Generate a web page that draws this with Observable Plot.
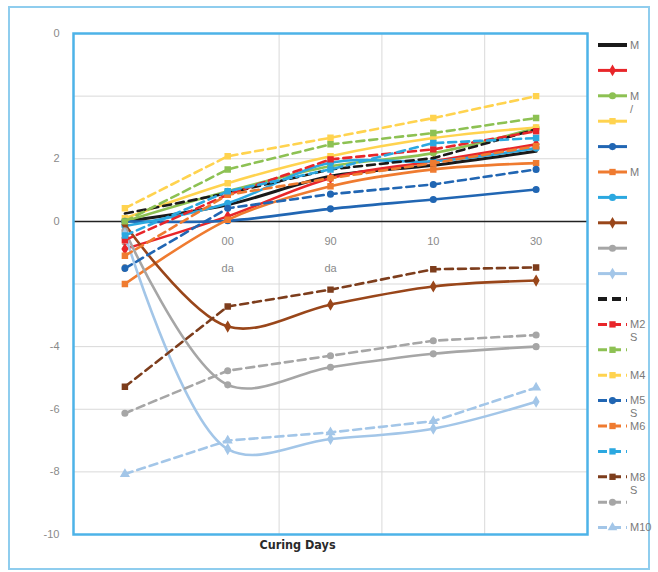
<!DOCTYPE html>
<html><head><meta charset="utf-8">
<script src="https://cdn.jsdelivr.net/npm/d3@7"></script>
<script src="https://cdn.jsdelivr.net/npm/@observablehq/plot@0.6"></script>
<style>
body{margin:0;background:#fff;font-family:"Liberation Sans",Arial,sans-serif;}
#wrap{position:relative;width:658px;height:572px;overflow:hidden;}
#border{position:absolute;left:8px;top:6px;width:642px;height:564px;border:2px solid #8fcdee;box-sizing:border-box;}
#chart{position:absolute;left:0;top:0;}
#legend{position:absolute;left:0;top:0;}
</style></head>
<body><div id="wrap"><div id="border"></div><div id="chart"></div><svg id="legend" width="658" height="572"></svg></div>
<script>
const categories = ["28 days","60 days","90 days","180 days","360 days"];
const tickLine1 = ["2","00","90","10","30"];
const tickLine2 = ["8","da","da","",""];
const yTickValues = [6,4,2,0,-2,-4,-6,-8,-10];
const yTickLabels = ["0","","2","0","","-4","-6","-8","-10"];
const gridY = [6,4,2,-2,-4,-6,-8];

const seriesNames = ["M1","M2","M3","M4","M5","M6","M7","M8","M9","M10",
  "M1 S","M2 S","M3 S","M4 S","M5 S","M6 S","M7 S","M8 S","M9 S","M10 S"];
const seriesColors = ["#1a1a1a","#e8262a","#8dc153","#ffd34f","#2166b3","#ef7b30","#2ba8e0","#99461a","#a6a6a6","#a3c6e8",
  "#1a1a1a","#e8262a","#8dc153","#ffd34f","#2166b3","#ef7b30","#2ba8e0","#7d3d1c","#a6a6a6","#a3c6e8"];
const seriesDashed = [false,false,false,false,false,false,false,false,false,false,
  true,true,true,true,true,true,true,true,true,true];
const seriesSymbols = [null,"diamond","circle","square","circle","square","circle","diamond","circle","diamond",
  null,"square","square","square","circle","square","square","square","circle","triangle"];
const legendLabels = [["M"],[],["M","/"],[],[],["M"],[],[],[],[],
  [],["M2","S"],[],["M4"],["M5","S"],["M6"],[],["M8","S"],[],["M10"]];

const M1  = [0.0, 0.53, 1.44, 1.79, 2.24];
const M2  = [-0.88, 0.16, 1.38, 1.92, 2.46];
const M3  = [0.0, 0.96, 1.76, 2.18, 2.98];
const M4  = [0.1, 1.22, 2.08, 2.66, 3.0];
const M5  = [0.0, 0.02, 0.4, 0.7, 1.02];
const M6  = [-2.0, 0.05, 1.12, 1.66, 1.86];
const M7  = [-0.15, 0.58, 1.87, 1.92, 2.34];
const M8  = [-0.1, -3.36, -2.66, -2.08, -1.89];
const M9  = [-0.3, -5.22, -4.66, -4.23, -4.0];
const M10 = [-0.4, -7.27, -6.95, -6.62, -5.76];
const M1S  = [0.25, 0.9, 1.66, 2.02, 2.94];
const M2S  = [-0.6, 0.85, 1.98, 2.3, 2.88];
const M3S  = [0.0, 1.66, 2.46, 2.82, 3.3];
const M4S  = [0.42, 2.08, 2.67, 3.3, 4.0];
const M5S  = [-1.5, 0.42, 0.87, 1.18, 1.66];
const M6S  = [-1.1, 0.85, 1.38, 1.86, 2.4];
const M7S  = [-0.45, 0.96, 1.66, 2.5, 2.66];
const M8S  = [-5.28, -2.72, -2.18, -1.53, -1.47];
const M9S  = [-6.13, -4.77, -4.29, -3.81, -3.63];
const M10S = [-8.07, -7.0, -6.74, -6.38, -5.31];
const seriesValues = [M1,M2,M3,M4,M5,M6,M7,M8,M9,M10,M1S,M2S,M3S,M4S,M5S,M6S,M7S,M8S,M9S,M10S];

const idx = categories.map((c,i)=>i);
const series = seriesNames.map((name,k)=>({
  name, color: seriesColors[k], dashed: seriesDashed[k], symbol: seriesSymbols[k],
  rows: seriesValues[k].map((v,i)=>({i, v, cat: categories[i]}))
}));

const marks = [
  Plot.ruleY(gridY, {stroke:"#d9d9d9", strokeWidth:1}),
  Plot.ruleX([1.5,2.5,3.5], {stroke:"#d9d9d9", strokeWidth:1}),
  Plot.ruleY([0], {stroke:"#222", strokeWidth:1.5}),
  Plot.axisY({ticks: yTickValues, tickSize:0, tickPadding:14, fill:"#8a8a8a", fontSize:11, label:null,
    tickFormat: d => yTickLabels[yTickValues.indexOf(d)]}),
  Plot.text(idx, {x: d=>d, y: ()=>0, text: d=>tickLine1[d], dy:20, fill:"#8a8a8a", fontSize:11}),
  Plot.text(idx, {x: d=>d, y: ()=>0, text: d=>tickLine2[d], dy:47, fill:"#8a8a8a", fontSize:11}),
];
for (const s of series) {
  marks.push(Plot.line(s.rows, {x:"i", y:"v", stroke:s.color, strokeWidth: s.name==="M1" ? 3 : 2.6,
    strokeDasharray: s.dashed ? "8,5" : null, curve: s.dashed ? "linear" : "catmull-rom"}));
  if (s.symbol) marks.push(Plot.dot(s.rows, {x:"i", y:"v", symbol: ()=>s.symbol, fill:s.color, stroke:s.color, r:2.8}));
}
marks.push(Plot.frame({stroke:"#4db3e8", strokeWidth:2.5}));
marks.push(Plot.text(["Curing Days"], {frameAnchor:"bottom", text:d=>d, dy:14, dx:-33, fontWeight:"bold", fontSize:12.5, fill:"#2a2a2a", fontFamily:"DejaVu Sans Condensed, DejaVu Sans"}));

const chart = Plot.plot({
  width:658, height:572,
  marginLeft:73, marginRight:71, marginTop:33, marginBottom:38,
  style:{fontFamily:"Liberation Sans, Arial, sans-serif", fontSize:"11px", background:"transparent"},
  x:{type:"linear", domain:[-0.5,4.5], axis:null},
  y:{domain:[-10,6], axis:null},
  marks
});
document.getElementById("chart").appendChild(chart);

// legend
const lg = d3.select("#legend");
const sym = {circle:d3.symbolCircle, square:d3.symbolSquare, diamond:d3.symbolDiamond, triangle:d3.symbolTriangle};
series.forEach((s,k)=>{
  const y = 45 + k*25.4;
  const g = lg.append("g").attr("transform", `translate(0,${y})`);
  g.append("line").attr("x1",598).attr("x2",627).attr("y1",0).attr("y2",0)
    .attr("stroke",s.color).attr("stroke-width", k===0||k===10 ? 4 : 3)
    .attr("stroke-dasharray", s.dashed ? "9,5" : null);
  if (s.symbol) g.append("path").attr("d", d3.symbol(sym[s.symbol], 40)()).attr("transform","translate(612.5,0)").attr("fill",s.color);
  legendLabels[k].forEach((t,j)=>{
    g.append("text").attr("x",630).attr("y", j*13).attr("dy","0.35em").attr("fill","#7a7a7a")
      .attr("font-size",11).attr("font-family","Liberation Sans, Arial, sans-serif").text(t);
  });
});
</script>
</body></html>
